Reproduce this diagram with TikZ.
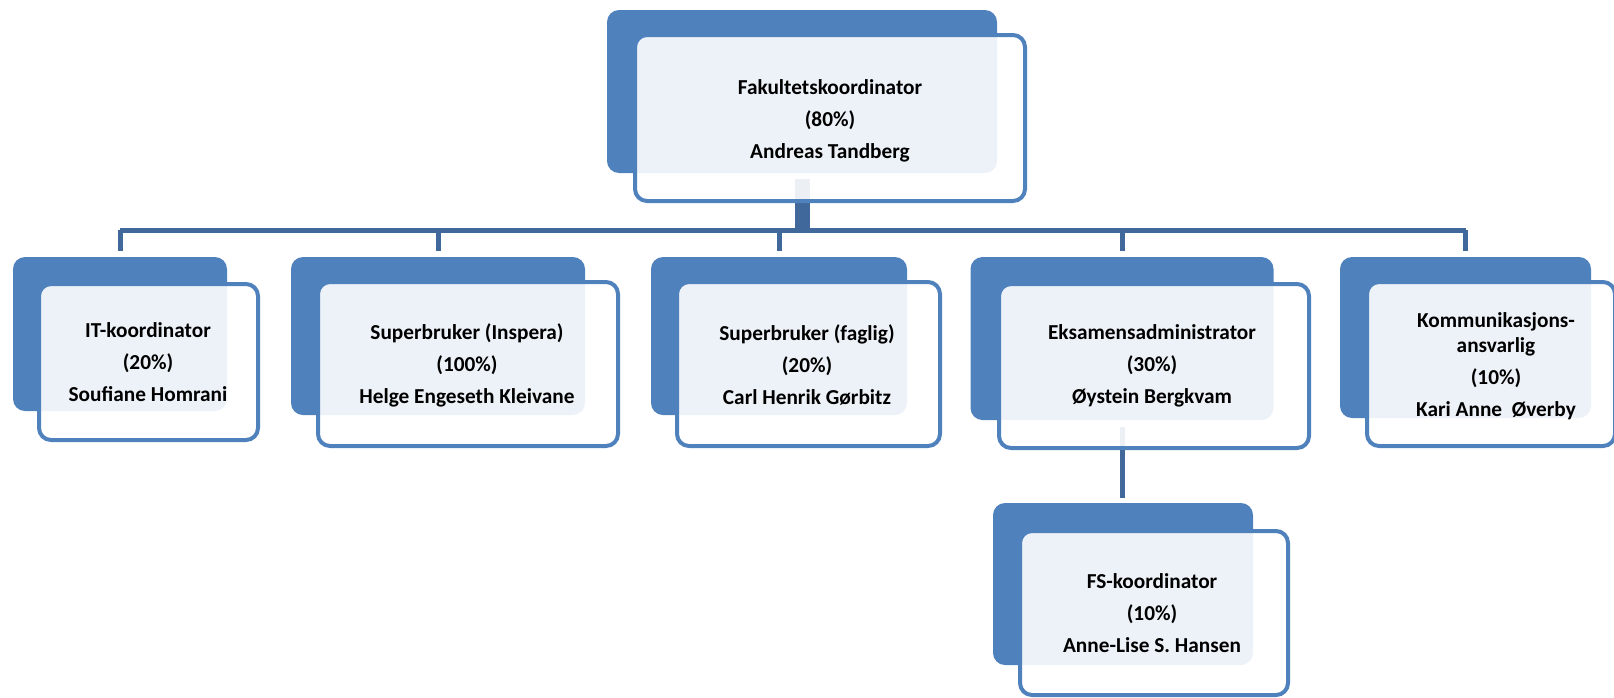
\documentclass[tikz,border=0pt]{standalone}
\usepackage{fontspec}
\setmainfont{Carlito}
\definecolor{boxblue}{RGB}{79,129,189}
\definecolor{linkblue}{RGB}{64,104,154}
\tikzset{
  backbox/.style 2 args={fill=boxblue, rounded corners=12pt, inner sep=0pt, minimum width=#1, minimum height=#2},
  frontbox/.style 2 args={draw=boxblue, line width=4pt, fill=white, fill opacity=0.9, rounded corners=12pt, inner sep=0pt, minimum width=#1, minimum height=#2},
  lbl/.style={font=\fontsize{21.3}{32}\selectfont\bfseries, align=center, inner sep=0pt, text=black},
  conn/.style={draw=linkblue, line width=5pt},
  stub/.style={draw=linkblue, line width=15pt},
}
\begin{document}
\begin{tikzpicture}[x=1pt,y=-1pt]
\clip (0,0) rectangle (1614,697);
\path[use as bounding box] (0,0) rectangle (1614,697);
% back boxes
\node[backbox={390pt}{163pt}] (topB) at (802,91.5) {};
\node[backbox={214pt}{154pt}] (c1B) at (120,334) {};
\node[backbox={294pt}{158pt}] (c2B) at (438,336) {};
\node[backbox={256pt}{158pt}] (c3B) at (779,336) {};
\node[backbox={303pt}{163pt}] (c4B) at (1122,338.5) {};
\node[backbox={251pt}{161pt}] (c5B) at (1465.5,337.5) {};
\node[backbox={260pt}{162pt}] (fsB) at (1123,584) {};
% connectors
\coordinate (bus) at (0,230);
\draw[stub, shorten <=6pt] (topB.south) -- (topB.south |- bus) -- ++(0,2);
\draw[conn, line cap=square] (c1B.north |- bus) -- (c5B.north |- bus);
\foreach \c in {c1B,c2B,c3B,c4B,c5B}{
  \draw[conn, shorten >=6pt] (\c.north |- bus) -- (\c.north);
}
\draw[conn, shorten <=7pt, shorten >=5pt] (c4B.south) -- (c4B.south |- fsB.north);
% front boxes
\node[frontbox={390pt}{166pt}] (topF) at (830,118) {};
\node[frontbox={219pt}{156pt}] (c1F) at (148.5,362) {};
\node[frontbox={300pt}{164pt}] (c2F) at (468,364) {};
\node[frontbox={263pt}{164pt}] (c3F) at (808.5,364) {};
\node[frontbox={310pt}{164pt}] (c4F) at (1154,366) {};
\node[frontbox={248pt}{164pt}] (c5F) at (1491,364) {};
\node[frontbox={268pt}{164pt}] (fsF) at (1154,613) {};
% texts
\node[lbl] (topT) at (830,121) {Fakultetskoordinator\\(80\%)\\Andreas Tandberg};
\node[lbl] (c1T) at (148,362) {IT-koordinator\\(20\%)\\Soufiane Homrani};
\node[lbl] (c2T) at (467,365) {Superbruker (Inspera)\\(100\%)\\Helge Engeseth Kleivane};
\node[lbl] (c3T) at (807,365) {Superbruker (faglig)\\(20\%)\\Carl Henrik Gørbitz};
\node[lbl] (c4T) at (1152,366) {Eksamensadministrator\\(30\%)\\Øystein Bergkvam};
\node[lbl] (c5T) at (1496,366) {Kommunikasjons-\\[-7pt]ansvarlig\\(10\%)\\Kari Anne\ \ Øverby};
\node[lbl] (fsT) at (1152,613) {FS-koordinator\\(10\%)\\Anne-Lise S. Hansen};
\end{tikzpicture}
\end{document}
